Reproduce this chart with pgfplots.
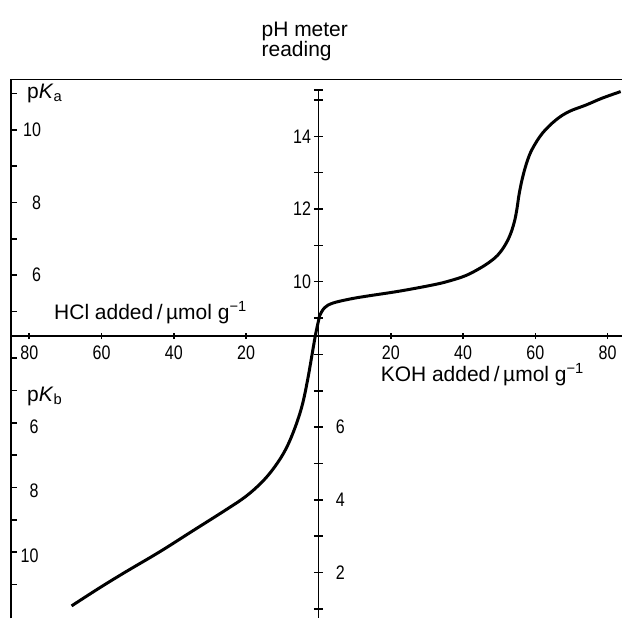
\documentclass[border=0pt]{standalone}
\usepackage{fontspec}
\setmainfont{Liberation Sans}
\newfontfamily\tickfont[FakeStretch=0.82]{Liberation Sans}
\usepackage{pgfplots}
\usepackage{pgfplotstable}
\pgfplotsset{compat=1.18}

% titration curve: x < 0 HCl added, x > 0 KOH added (umol/g), y = pH meter reading
\pgfplotstableread{
x ph
-68.3 1.08
-60.5 1.58
-53.1 2.03
-43.9 2.57
-34.7 3.15
-25.5 3.73
-20.0 4.10
-15.5 4.50
-12.0 4.92
-9.0 5.40
-6.5 5.98
-4.5 6.60
-3.0 7.30
-1.8 7.98
-0.8 8.55
0.0 8.92
0.28 9.05
1.66 9.28
3.95 9.41
8.56 9.52
13.2 9.60
22.4 9.74
31.6 9.91
36.2 10.02
40.8 10.17
44.5 10.36
47.2 10.53
49.5 10.72
51.4 10.97
53.0 11.28
54.2 11.65
54.9 12.00
55.5 12.40
56.4 12.84
57.7 13.30
59.2 13.66
62.0 14.09
65.7 14.45
69.3 14.68
74.0 14.86
78.5 15.05
83.6 15.23
}\titration

\newcommand{\txt}{\fontsize{10.5}{12}\selectfont}
\newcommand{\tck}{\tickfont\fontsize{9.8}{11}\selectfont}

\begin{document}
\begin{tikzpicture}[every node/.append style={inner sep=0pt}]
\begin{axis}[
  width=306pt, height=269.7pt, scale only axis,
  xmin=-85.08, xmax=84.0, ymin=0.74, ymax=15.56,
  hide axis, clip=false,
]
\path (axis cs:-88.1,0.74) rectangle (axis cs:84,17.75);

% frame (left and top)
\draw[line width=0.8pt] (axis cs:-85.08,0.74) -- (axis cs:-85.08,15.56) -- (axis cs:84,15.56);
% horizontal axis
\draw[line width=0.9pt] (axis cs:-85.08,8.5) -- (axis cs:84,8.5);
% central pH axis
\draw[line width=0.9pt] (axis cs:0,15.27) -- (axis cs:0,0.74);
\draw[line width=0.8pt] (axis cs:0,15.27) ++(-2.25pt,0pt) -- ++(4.5pt,0pt);

% pH ticks
\pgfplotsinvokeforeach{1,2,...,15}{
  \draw[line width=0.8pt] (axis cs:0,#1) ++(-2.25pt,0pt) -- ++(4.5pt,0pt);
}
\pgfplotsinvokeforeach{10,12,14}{
  \node[anchor=east, xshift=-3.5pt, font=\tck] at (axis cs:0,#1) {#1};
}
\pgfplotsinvokeforeach{2,4,6}{
  \node[anchor=west, xshift=8.5pt, font=\tck] at (axis cs:0,#1) {#1};
}

% amount ticks
\pgfplotsinvokeforeach{-80,-60,-40,-20,20,40,60,80}{
  \draw[line width=0.8pt] (axis cs:#1,8.5) ++(0pt,-1.5pt) -- ++(0pt,3.2pt);
}
\pgfplotsinvokeforeach{20,40,60,80}{
  \node[anchor=north, yshift=-4.5pt, font=\tck] at (axis cs:#1,8.5) {#1};
  \node[anchor=north, yshift=-4.5pt, font=\tck] at (axis cs:-#1,8.5) {#1};
}

% pKa ticks on the left frame
\pgfplotsinvokeforeach{9.18,10.18,11.18,12.18,13.18,14.18,15.18}{
  \draw[line width=0.8pt] (axis cs:-85.08,#1) -- ++(3pt,0pt);
}
\node[anchor=east, font=\tck] at (axis cs:-76.66,14.18) {10};
\node[anchor=east, font=\tck] at (axis cs:-76.66,12.18) {8};
\node[anchor=east, font=\tck] at (axis cs:-76.66,10.18) {6};

% pKb ticks on the left frame
\pgfplotsinvokeforeach{7.90,7.01,6.12,5.23,4.34,3.45,2.56,1.67}{
  \draw[line width=0.8pt] (axis cs:-85.08,#1) -- ++(3pt,0pt);
}
\node[anchor=east, yshift=-1.8pt, font=\tck] at (axis cs:-77.35,6.12) {6};
\node[anchor=east, yshift=-1.8pt, font=\tck] at (axis cs:-77.35,4.34) {8};
\node[anchor=east, yshift=-1.8pt, font=\tck] at (axis cs:-77.35,2.56) {10};

% labels
\node[anchor=base west, font=\txt] at (axis cs:-15.83,16.74) {pH meter};
\node[anchor=base west, font=\txt] at (axis cs:-15.83,16.19) {reading};
\node[anchor=base, font=\txt] at (axis cs:-46.4,8.956) {HCl added\,/\,µmol g\textsuperscript{−1}};
\node[anchor=base, font=\txt] at (axis cs:45.4,7.26) {KOH added\,/\,µmol g\textsuperscript{−1}};
\node[anchor=base west, font=\txt] at (axis cs:-80.7,15.05) {p\textit{K}\textsubscript{a}};
\node[anchor=base west, font=\txt] at (axis cs:-80.7,6.71) {p\textit{K}\textsubscript{b}};

\addplot[black, line width=1.5pt, smooth, tension=0.6] table[x=x, y=ph] {\titration};
\end{axis}
\end{tikzpicture}
\end{document}
